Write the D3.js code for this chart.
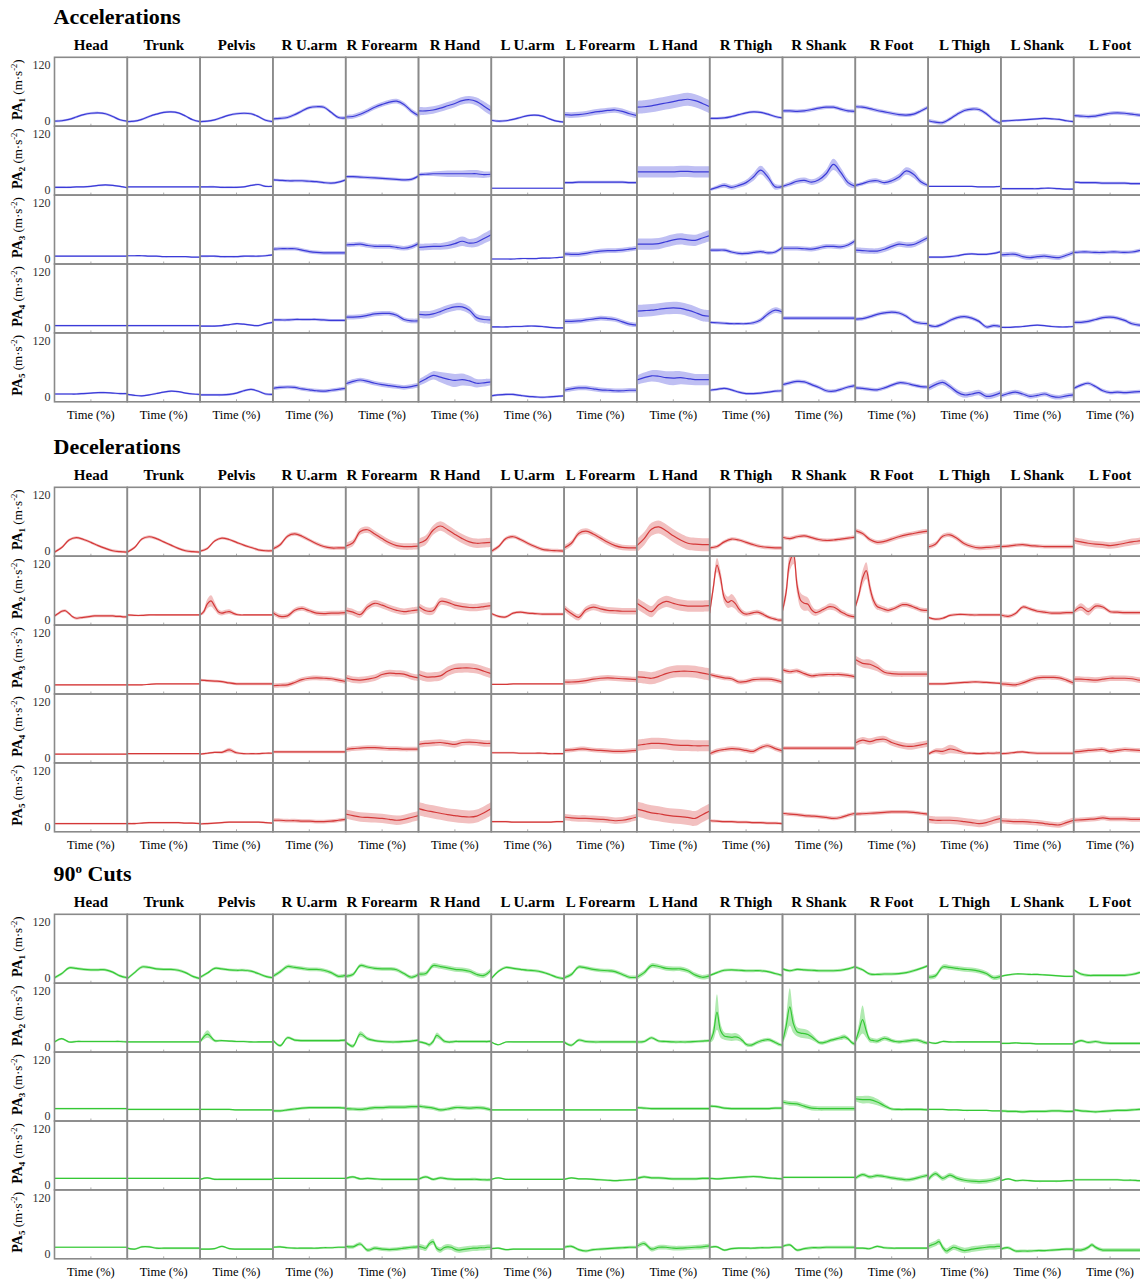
<!DOCTYPE html>
<html>
<head>
<meta charset="utf-8">
<script src="https://cdn.jsdelivr.net/npm/d3@7"></script>
<style>
  body { margin: 0; background: #fff; }
  svg { display: block; }
</style>
</head>
<body>
<svg id="chart" width="1140" height="1279"></svg>
<script>
// Body segments (columns) and principal-acceleration components (rows)
const segments = ["Head","Trunk","Pelvis","R U.arm","R Forearm","R Hand","L U.arm","L Forearm","L Hand","R Thigh","R Shank","R Foot","L Thigh","L Shank","L Foot"];
const sectionTitles = ["Accelerations","Decelerations","90º Cuts"];
const componentIndex = ["1","2","3","4","5"];
const yTickValues = [0, 120];
const xAxisLabel = "Time (%)";

// Mean curves (m·s⁻²) sampled evenly over 0–100 % of the movement; one row per PA component
const accelMean = [
  [[0,1,4,9,14,17,18,16,10,3,0],[-1,0,4,10,15,19,20,18,11,3,-1],[-1,0,3,8,13,16,17,16,10,2,-1],[5,6,8,14,22,29,31,30,19,8,7],[9,10,15,22,30,36,41,43,36,22,12],[22,22,24,28,33,38,44,46,42,32,22],[2,0,1,4,8,12,13,11,5,0,-2],[14,13,14,16,19,21,23,24,21,16,12],[30,31,33,36,39,42,45,47,44,38,31],[6,6,7,10,14,18,20,19,15,10,7],[22,22,21,22,25,28,30,30,26,22,21],[31,30,27,23,20,17,14,13,15,22,30],[1,-2,-3,5,15,23,26,25,16,3,-5],[0,1,2,3,4,5,6,5,4,1,-1],[12,11,10,11,14,17,18,17,15,13,12]],
  [[6,6,6,7,7,8,10,11,10,8,5],[7,7,7,7,7,7,7,7,7,7,7],[7,7,7,6,6,6,7,10,12,8,8],[22,21,20,20,20,19,18,16,15,17,22],[29,29,28,27,26,25,24,23,22,23,30],[33,34,35,35,35,35,35,35,35,33,34],[4,4,4,4,4,4,4,4,4,4,4],[16,16,17,17,17,17,17,17,17,16,16],[39,39,39,39,39,39,40,40,39,39,39],[1,6,10,6,10,16,28,43,28,7,8],[8,13,19,21,17,22,35,55,38,16,8],[10,14,19,20,16,20,28,41,34,18,10],[8,8,8,8,8,8,8,7,7,7,8],[3,3,3,3,3,3,4,4,3,2,2],[17,16,16,16,15,15,15,15,14,14,13]],
  [[6,6,6,6,6,6,6,6,6,6,6],[7,7,7,6,6,5,5,5,5,4,4],[6,6,6,5,5,5,6,6,6,7,9],[21,22,22,22,19,16,14,13,13,13,13],[30,31,32,29,27,27,27,25,23,26,33],[25,26,27,27,29,33,38,34,36,44,52],[0,0,0,0,1,1,1,2,2,3,4],[11,10,10,12,15,17,18,18,19,21,23],[32,32,32,33,37,41,43,41,40,45,50],[19,19,19,15,12,12,14,16,13,15,25],[23,23,23,22,21,24,27,27,26,30,39],[19,18,17,17,21,27,32,30,31,38,46],[4,4,4,5,7,10,11,10,10,12,16],[9,10,10,5,3,5,6,4,3,8,14],[14,15,15,14,14,15,15,14,15,18,22]],
  [[5,5,5,5,5,5,5,5,5,5,5],[5,5,5,5,5,5,5,5,5,5,5],[4,4,4,5,7,9,8,6,5,9,12],[17,17,17,18,18,18,18,17,16,16,16],[23,23,24,27,30,31,31,27,18,15,15],[29,28,30,35,41,45,45,38,22,18,17],[2,2,2,3,3,4,4,3,1,0,0],[14,14,15,17,19,21,20,18,13,8,6],[36,37,38,40,42,43,42,38,33,27,25],[12,11,10,9,9,9,11,17,30,38,34],[21,21,21,21,21,21,21,21,21,21,21],[19,20,24,29,32,34,32,25,14,10,9],[6,3,8,16,22,24,21,14,2,5,3],[1,1,2,3,5,6,5,3,2,2,3],[12,12,14,18,22,23,21,16,9,6,5]],
  [[6,6,6,6,7,8,9,9,8,7,7],[5,3,2,4,7,10,12,11,8,6,5],[4,4,4,4,5,8,13,16,12,6,5],[18,20,21,20,17,15,13,12,14,16,18],[28,33,36,33,29,26,24,22,20,22,25],[30,38,46,42,38,35,37,34,29,30,32],[2,4,5,5,3,1,0,-1,0,1,2],[14,17,19,19,17,15,14,13,13,14,14],[36,41,45,44,41,40,41,39,37,37,37],[14,16,18,15,10,7,7,8,10,12,13],[26,30,33,32,26,20,13,12,16,21,24],[19,18,16,15,19,25,30,29,25,22,21],[18,26,31,22,10,4,6,9,1,3,9],[2,7,10,6,1,3,6,1,-1,2,4],[18,25,29,22,13,9,10,9,10,11,11]]
];
// Standard deviations: one value for the whole curve, or one per sample
const accelSd = [
  [2.5,2.5,2.5,3.5,5,[9,8,8,8,8,8,8,8,9,10,10],2.5,6,14,3,4,4,4,2.5,4],
  [2,1.5,2,3,3.5,[4,4,5,6,7,7,7,8,8,7,6],1.5,3,12,[3,4,5,5,5,6,8,9,9,6,4],[4,5,6,6,6,7,9,12,10,8,5],[4,4,5,5,5,6,7,8,8,6,4],1.5,2,3],
  [1.5,1.5,2,4,5,[7,7,7,7,8,9,10,9,10,11,12],1.5,5,12,4,5,6,2.5,5,4],
  [1.5,1.5,2,3,5,8,2,5,13,[3,3,3,3,3,3,4,5,6,6,5],4,4,4,2,4],
  [2,2,2.5,4,5,[7,8,9,11,13,14,13,11,9,8,7],2.5,5,[10,11,12,13,14,15,14,13,12,12,12],3,4,4,6,5,4]
];

const decelMean = [
  [[-2,8,24,29,25,19,12,6,1,-1,-2],[-2,8,26,31,27,20,13,6,1,-1,-2],[0,6,22,28,25,19,13,8,3,1,1],[5,14,32,37,32,24,16,10,7,7,7],[11,18,42,46,37,27,18,12,10,10,11],[17,24,45,54,46,36,27,20,17,18,19],[0,10,27,31,25,17,10,4,2,1,0],[7,17,38,43,37,28,19,12,8,7,7],[12,27,47,52,44,33,24,17,15,14,14],[7,10,20,26,24,19,14,10,8,7,7],[30,27,31,33,29,25,23,24,26,28,30],[44,38,25,19,21,26,31,35,38,41,43],[9,15,32,35,27,16,10,7,8,9,11],[10,11,13,14,12,11,10,10,10,10,10],[23,20,17,15,14,12,14,17,20,22,24]],
  [[9,14,19,20,14,7,4,5,6,7,8,9,9,9,9,9,9,8,8,7,7],[11,10,10,11,11,11,11,11,11,11,11],[11,18,35,41,30,18,15,17,18,15,12,11,11,11,11,11,11,11,11,11,11],[16,8,9,21,25,20,15,14,15,15,16],[21,17,12,28,36,32,26,21,18,20,22],[29,20,20,40,38,32,29,27,27,29,31],[14,8,7,15,17,15,14,13,13,13,13],[26,14,6,22,28,24,21,20,19,19,19],[36,26,18,33,40,36,32,30,30,30,31],[15,70,118,90,48,38,42,36,24,16,13,14,16,17,15,11,7,4,2,0,0],[20,60,125,140,75,42,36,34,22,16,18,22,26,29,28,24,18,14,10,8,7],[28,55,90,106,70,42,29,26,23,21,23,26,30,33,33,31,28,25,22,21,21],[6,2,4,10,12,12,11,11,11,11,11],[11,8,14,28,24,19,17,15,15,16,16],[18,28,18,30,28,18,17,16,16,16,16]],
  [[9,9,9,9,9,9,9,9,9,9,9],[9,9,9,10,11,11,11,11,11,11,11],[19,18,17,16,13,11,11,11,11,11,11],[7,8,9,14,20,23,24,23,22,19,16],[24,20,19,21,24,31,34,33,32,27,24],[31,26,26,28,38,44,45,45,43,38,33],[10,10,10,11,11,11,11,11,11,11,11],[15,15,16,18,21,23,24,23,22,21,20],[26,25,23,27,33,37,38,38,37,34,31],[31,27,24,22,15,16,20,21,21,19,15],[41,37,39,33,28,30,31,31,31,29,26],[63,55,53,46,36,33,32,32,32,32,32],[11,11,11,12,13,14,15,15,14,13,12],[11,10,9,13,19,24,25,25,24,19,13],[21,21,20,19,21,23,23,23,22,19,17]],
  [[8,8,8,8,8,8,8,8,8,8,8],[9,9,9,9,9,9,9,9,9,9,9],[8,10,12,12,17,11,9,9,9,10,10],[13,13,13,13,13,13,13,13,13,13,13],[18,20,21,22,22,21,20,20,19,19,19],[29,31,32,33,31,29,33,34,33,31,31],[11,11,11,11,10,10,10,10,9,9,9],[16,17,19,19,17,16,15,14,14,15,16],[27,29,31,31,30,28,27,27,26,26,26],[9,15,18,20,19,16,14,22,26,20,15],[21,21,21,21,21,21,21,21,21,21,21],[32,38,35,39,40,33,28,25,25,28,31],[8,15,14,19,16,11,10,9,10,10,11],[9,10,12,13,11,10,10,10,10,10,10],[13,14,16,17,18,14,16,18,17,16,15]],
  [[7,7,7,7,7,7,7,7,7,7,7],[7,7,8,9,9,9,9,9,8,8,7],[6,7,8,9,10,10,10,10,10,9,8],[14,14,13,13,12,12,11,11,12,14,16],[27,24,21,20,19,18,16,14,16,20,24],[39,35,32,29,26,24,22,21,23,30,39],[11,11,11,10,10,10,10,10,10,11,11],[21,19,18,18,17,16,15,13,14,17,21],[38,34,30,28,25,23,22,20,18,26,34],[13,12,11,11,10,10,9,9,8,8,7],[29,27,26,24,23,22,20,18,20,25,29],[27,28,29,30,31,32,32,32,31,29,27],[16,14,14,14,13,11,9,7,9,14,18],[13,12,11,11,10,9,7,5,4,9,14],[14,15,16,17,19,17,17,17,16,16,16]]
];
const decelSd = [
  [3,3,3,4,7,10,4,6,14,4,4,5,5,4,7],
  [3,2,[2,5,10,12,9,6,5,5,5,4,3,2,2,2,2,2,2,2,2,2,2],5,7,8,3,7,12,[6,12,15,15,12,12,14,12,9,6,5,5,5,5,5,5,4,4,4,4,4],[6,15,20,20,18,16,16,14,10,7,6,6,6,7,7,7,6,6,5,5,5],[5,10,16,18,14,10,7,6,6,5,5,5,5,5,5,5,5,5,5,5,5],3,4,[4,8,8,6,5,4,4,4,4,4,4]],
  [1.5,1.5,3,5,7,10,1.5,6,13,5,5,[9,9,10,8,6,6,6,6,6,6,6],3,5,6],
  [1.5,1.5,[2,2,2,3,5,3,2,2,2,2,2],3,5,7,2,5,12,5,4,7,[3,5,7,9,7,4,3,3,3,3,3],3,5],
  [1.5,2,2,4,10,14,2,7,16,3,4,4,8,6,5]
];

const cutMean = [
  [[1,10,22,21,19,18,18,18,13,5,1],[-1,12,24,23,20,19,19,17,12,4,-1],[2,11,21,20,18,17,17,15,10,4,1],[4,14,25,23,21,19,19,17,12,4,6],[4,8,27,24,21,20,20,18,10,2,8],[9,10,27,25,22,19,18,15,8,6,18],[-1,15,23,21,19,17,16,13,8,2,-1],[1,8,24,22,19,17,16,14,8,2,2],[2,12,27,25,21,20,20,16,7,2,5],[6,12,17,18,17,16,16,16,14,10,6],[20,16,19,18,17,16,16,16,17,20,25],[24,18,9,8,9,9,10,12,16,21,27],[2,5,24,23,21,19,18,15,10,1,4],[4,7,9,9,8,8,7,6,5,4,4],[18,9,6,6,6,6,6,6,8,12,20]],
  [[11,18,11,12,12,12,12,12,12,12,11],[11,11,11,11,11,11,11,11,11,11,11],[11,28,14,14,13,12,12,11,11,11,11],[15,3,20,15,14,14,14,14,14,14,15],[11,2,28,18,14,12,11,11,12,13,15],[11,10,8,5,12,25,20,13,11,11,12,12,12,12,12,12,12,12,12,12,13],[11,5,11,11,11,11,11,11,11,11,11],[11,4,15,12,11,11,11,11,11,11,11],[11,12,20,13,12,11,11,11,12,13,14],[11,30,75,35,24,22,21,22,20,14,6,4,6,10,13,15,16,14,10,6,4],[11,45,86,50,33,30,29,27,22,16,10,9,11,14,16,18,20,22,18,10,6],[11,35,59,35,16,14,13,16,19,17,14,12,11,12,13,14,15,15,13,10,8],[11,8,12,11,11,11,11,11,11,11,11],[8,8,9,8,8,7,7,7,7,7,7],[8,14,10,12,9,8,8,8,8,8,8]],
  [[16,16,16,16,16,16,16,16,16,16,16],[14,14,14,14,14,14,14,14,14,14,14],[14,14,14,14,14,13,13,13,13,13,13],[11,11,13,15,17,18,18,18,18,18,17],[16,15,14,16,18,18,19,19,19,20,20],[21,19,17,13,15,18,18,17,18,17,13],[13,13,13,13,13,13,13,13,13,13,13],[13,13,13,13,13,13,13,13,13,13,13],[18,17,16,16,16,16,16,16,16,16,16],[21,20,17,16,16,16,16,16,16,17,17],[30,27,26,21,17,16,16,16,16,16,16],[37,35,35,30,22,15,14,14,14,14,13],[14,14,14,13,13,12,12,12,12,11,11],[11,10,10,9,10,10,10,11,11,10,10],[13,11,10,9,10,11,12,12,13,14,14]],
  [[14,14,14,14,14,14,14,14,14,14,14],[14,14,14,14,14,14,14,14,14,14,14],[12,15,12,12,12,12,12,12,12,12,12],[14,14,14,14,14,14,14,14,14,14,14],[14,17,13,14,13,12,12,12,12,12,12],[12,17,12,15,13,12,12,12,12,11,11],[12,15,12,12,12,12,12,12,12,12,12],[12,15,13,13,12,11,10,9,10,11,12],[14,17,15,15,14,13,13,13,13,14,14],[14,13,14,15,16,17,18,17,15,14,13],[16,16,16,16,16,16,16,16,16,16,16],[14,22,17,20,18,15,13,11,13,17,21],[11,24,14,21,14,10,8,7,8,11,16],[9,13,9,10,9,8,8,8,8,9,9],[11,11,11,11,11,11,11,10,10,9,9]],
  [[14,14,14,14,14,14,14,14,14,14,14],[12,10,15,15,12,12,12,12,12,12,12],[10,10,11,16,11,10,10,10,10,10,10],[14,15,13,12,12,12,12,13,13,14,14],[16,15,21,8,12,10,9,10,12,14,15],[16,14,12,22,26,12,8,13,15,14,10,8,9,10,11,12,12,13,13,14,14],[11,12,9,10,10,10,10,10,10,10,10],[14,16,9,6,9,10,11,12,13,14,14],[16,22,10,14,14,12,12,13,14,15,17],[14,15,8,11,12,12,12,13,13,14,14],[16,19,8,11,13,13,14,14,14,14,14],[12,12,11,16,13,12,12,12,12,12,12],[16,19,22,26,14,6,10,14,12,9,7,8,10,11,12,13,14,15,15,16,16],[10,13,6,6,6,7,7,8,9,10,10],[7,8,8,10,14,19,14,10,8,8,8,8,8,8,8,8,8,8,8,8,7]]
];
const cutSd = [
  [3,3,3,4,4,5,3,4,5,3,3,3,5,2,3],
  [2,1.5,[2,8,3,2,2,2,2,2,2,2,2],3,[3,4,6,4,3,3,3,3,3,3,3],[3,3,3,4,5,6,5,4,3,3,3,3,3,3,3,3,3,3,3,3,3],1.5,3,3,[3,15,38,15,8,8,8,8,7,5,4,4,4,4,4,4,4,4,4,4,3],[4,20,40,20,10,10,10,9,7,5,4,4,4,4,4,4,5,5,4,4,4],[3,15,30,15,6,5,5,5,5,5,4,4,4,4,4,4,4,4,4,4,3],2,2,3],
  [1.5,1.5,1.5,3,4,4,1.5,1.5,3,3,5,[6,8,8,7,5,3,3,3,3,3,3],1.5,3,3],
  [1.5,1.5,2,1.5,2.5,3,1.5,2,3,2.5,2,4,5,2,2],
  [1.5,2,2,2,4,6,2,3,5,2.5,3,2.5,6,3,4]
];

const sections = [
  { title: sectionTitles[0], mean: accelMean, sd: accelSd, line: "#3b3bd8", band: "#bfbff3" },
  { title: sectionTitles[1], mean: decelMean, sd: decelSd, line: "#d43838", band: "#f2c0c0" },
  { title: sectionTitles[2], mean: cutMean,   sd: cutSd,   line: "#35c835", band: "#b0eab0" }
];

// ---- layout ----
const serif = "'Liberation Serif', 'Times New Roman', Times, serif";
const gridLeft = 54.5, colW = 72.8, rowH = 68.9;
const gridTops = [57.3, 487.3, 914.3];

const svg = d3.select("#chart");

// one clip rectangle shared by every panel (applied in panel-local coordinates)
svg.append("defs").append("clipPath").attr("id", "panelClip")
  .append("rect").attr("x", 0).attr("y", 0).attr("width", colW).attr("height", rowH);

const x = d3.scaleLinear().domain([0, 100]).range([0, colW]);
const y = d3.scaleLinear().domain([0, 120]).range([rowH - 5, rowH - 61]);

const smooth = d3.curveCatmullRom.alpha(0.5);
const lineGen = d3.line().x(d => x(d.t)).y(d => y(d.m)).curve(smooth);
const bandGen = d3.area().x(d => x(d.t)).y0(d => y(d.m - d.s)).y1(d => y(d.m + d.s)).curve(smooth);

function samples(mean, sd) {
  const n = mean.length;
  return mean.map((m, i) => ({
    t: i / (n - 1) * 100,
    m: m,
    s: Array.isArray(sd) ? sd[i] : sd
  }));
}

sections.forEach((sec, si) => {
  const top = gridTops[si];
  const g = svg.append("g").attr("transform", `translate(0,${top})`);

  // section title (a "º" is typeset as a raised small o)
  const title = g.append("text")
    .attr("x", 53.5).attr("y", -33)
    .attr("font-family", serif).attr("font-size", 22).attr("font-weight", "bold")
    .attr("fill", "#000");
  const parts = sec.title.split("º");
  title.append("tspan").text(parts[0]);
  if (parts.length > 1) {
    title.append("tspan").attr("font-size", 13).attr("dy", -8).text("o");
    title.append("tspan").attr("dy", 8).text(parts[1]);
  }

  // column headings
  g.selectAll("text.seg").data(segments).join("text")
    .attr("class", "seg")
    .attr("x", (d, c) => gridLeft + c * colW + colW / 2)
    .attr("y", -7)
    .attr("text-anchor", "middle")
    .attr("font-family", serif).attr("font-size", 15).attr("font-weight", "bold")
    .attr("fill", "#000")
    .text(d => d);

  sec.mean.forEach((rowMeans, r) => {
    const rowTop = r * rowH;

    // y-axis label  PA_k (m·s^-2)
    const lab = g.append("text")
      .attr("transform", `translate(22,${rowTop + rowH / 2 - 2}) rotate(-90)`)
      .attr("text-anchor", "middle")
      .attr("font-family", serif).attr("font-size", 14).attr("fill", "#000");
    lab.append("tspan").attr("font-weight", "bold").text("PA");
    lab.append("tspan").attr("font-weight", "bold").attr("font-size", 9).attr("dy", 3).text(componentIndex[r]);
    lab.append("tspan").attr("dy", -3).attr("font-size", 13).text(" (m·s");
    lab.append("tspan").attr("font-size", 8.5).attr("dy", -5).text("-2");
    lab.append("tspan").attr("dy", 5).attr("font-size", 13).text(")");

    // y tick labels
    g.selectAll(null).data(yTickValues).join("text")
      .attr("x", gridLeft - 4)
      .attr("y", v => rowTop + y(v))
      .attr("dy", "0.35em")
      .attr("text-anchor", "end")
      .attr("font-family", serif).attr("font-size", 12)
      .attr("fill", "#333")
      .text(v => v);

    rowMeans.forEach((mean, c) => {
      const p = g.append("g").attr("transform", `translate(${gridLeft + c * colW},${rowTop})`);
      const data = samples(mean, sec.sd[r][c]);
      const inner = p.append("g").attr("clip-path", "url(#panelClip)");
      inner.append("path").attr("d", bandGen(data)).attr("fill", sec.band).attr("stroke", "none");
      inner.append("path").attr("d", lineGen(data)).attr("fill", "none")
        .attr("stroke", sec.line).attr("stroke-width", 1.2);

      // small inward tick at mid-time on the bottom edge
      p.append("line")
        .attr("x1", x(50)).attr("x2", x(50))
        .attr("y1", rowH).attr("y2", rowH - 2.5)
        .attr("stroke", "#9a9a9a").attr("stroke-width", 0.8);

      // panel frame
      p.append("rect")
        .attr("x", 0).attr("y", 0).attr("width", colW).attr("height", rowH)
        .attr("fill", "none").attr("stroke", "#8a8a8a").attr("stroke-width", 1.6);
    });
  });

  // x-axis labels under the last row
  g.selectAll("text.xl").data(segments).join("text")
    .attr("class", "xl")
    .attr("x", (d, c) => gridLeft + c * colW + colW / 2)
    .attr("y", 5 * rowH + 17.5)
    .attr("text-anchor", "middle")
    .attr("font-family", serif).attr("font-size", 12.5)
    .attr("fill", "#000")
    .text(xAxisLabel);
});
</script>
</body>
</html>
